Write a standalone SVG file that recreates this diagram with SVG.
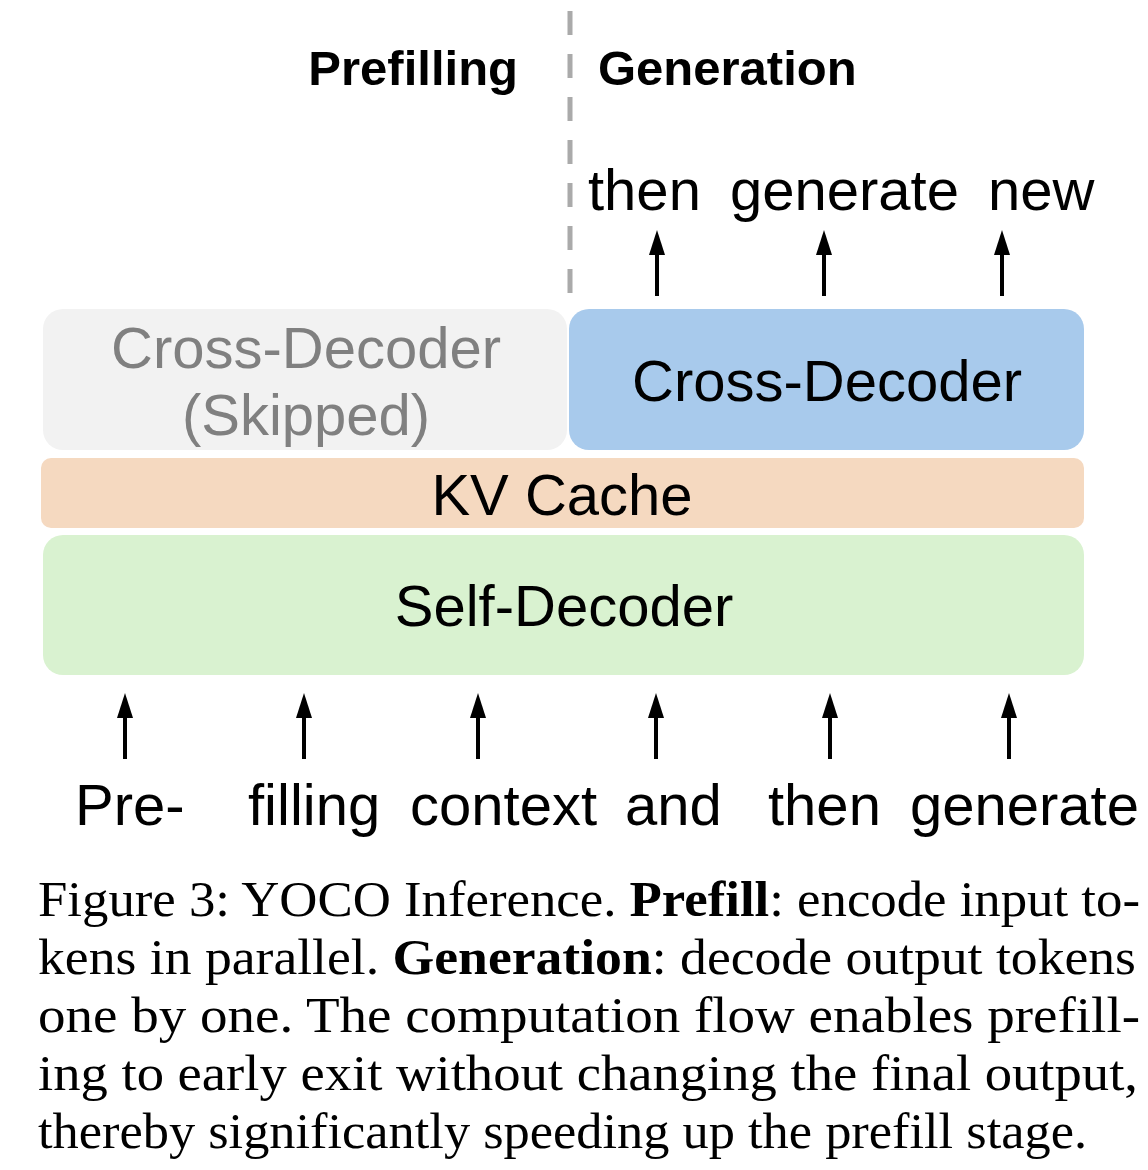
<svg xmlns="http://www.w3.org/2000/svg" width="1148" height="1170" viewBox="0 0 1148 1170">
<defs>
<style>
.lbl{font-family:"Liberation Sans",Arial,sans-serif;font-size:58px;fill:#000;}
.gray{fill:#808080;}
.hdr{font-family:"Liberation Sans",Arial,sans-serif;font-size:49px;font-weight:bold;fill:#000;}
.cap{font-family:"Liberation Serif","Times New Roman",serif;font-size:51px;fill:#000;}
.arrow{stroke:#000;stroke-width:4;fill:none;}
</style>
</defs>
<rect width="1148" height="1170" fill="#fff"/>
<g id="divider">
<line x1="570" y1="11" x2="570" y2="296" stroke="#aaaaaa" stroke-width="5" stroke-dasharray="24 19"/>
</g>
<g id="headers">
<text class="hdr" x="518" y="85" text-anchor="end">Prefilling</text>
<text class="hdr" x="598" y="85">Generation</text>
</g>
<g id="outputs">
<text class="lbl" x="588" y="210">then</text>
<text class="lbl" x="730" y="210">generate</text>
<text class="lbl" x="988" y="210">new</text>
</g>
<g id="cross-skipped">
<rect x="43" y="309" width="524" height="141" rx="20" fill="#f2f2f2"/>
<text class="lbl gray" x="306" y="368" text-anchor="middle">Cross-Decoder</text>
<text class="lbl gray" x="306" y="435" text-anchor="middle">(Skipped)</text>
</g>
<g id="cross-decoder">
<rect x="569" y="309" width="515" height="141" rx="20" fill="#a8caec"/>
<text class="lbl" x="827" y="401" text-anchor="middle">Cross-Decoder</text>
</g>
<g id="kv-cache">
<rect x="41" y="458" width="1043" height="70" rx="10" fill="#f5d9c0"/>
<text class="lbl" x="562" y="515" text-anchor="middle">KV Cache</text>
</g>
<g id="self-decoder">
<rect x="43" y="535" width="1041" height="140" rx="20" fill="#d9f2d0"/>
<text class="lbl" x="564" y="626" text-anchor="middle">Self-Decoder</text>
</g>
<g id="connectors">
<g class="arrow">
<line x1="657" y1="296" x2="657" y2="252"/>
<line x1="824" y1="296" x2="824" y2="252"/>
<line x1="1002" y1="296" x2="1002" y2="252"/>
<line x1="125" y1="759" x2="125" y2="715"/>
<line x1="304" y1="759" x2="304" y2="715"/>
<line x1="478" y1="759" x2="478" y2="715"/>
<line x1="656" y1="759" x2="656" y2="715"/>
<line x1="830" y1="759" x2="830" y2="715"/>
<line x1="1009" y1="759" x2="1009" y2="715"/>
</g>
<g fill="#000">
<polygon points="657,230 649,255 665,255"/>
<polygon points="824,230 816,255 832,255"/>
<polygon points="1002,230 994,255 1010,255"/>
<polygon points="125,693 117,718 133,718"/>
<polygon points="304,693 296,718 312,718"/>
<polygon points="478,693 470,718 486,718"/>
<polygon points="656,693 648,718 664,718"/>
<polygon points="830,693 822,718 838,718"/>
<polygon points="1009,693 1001,718 1017,718"/>
</g>
</g>
<g id="inputs">
<text class="lbl" x="75" y="825">Pre-</text>
<text class="lbl" x="248" y="825">filling</text>
<text class="lbl" x="410" y="825">context</text>
<text class="lbl" x="625" y="825">and</text>
<text class="lbl" x="768" y="825">then</text>
<text class="lbl" x="910" y="825">generate</text>
</g>
<g id="caption">
<text class="cap" x="38" y="916" textLength="1102" lengthAdjust="spacingAndGlyphs">Figure 3:  YOCO Inference. <tspan font-weight="bold">Prefill</tspan>: encode input to-</text>
<text class="cap" x="38" y="974" textLength="1098" lengthAdjust="spacingAndGlyphs">kens in parallel. <tspan font-weight="bold">Generation</tspan>: decode output tokens</text>
<text class="cap" x="38" y="1032" textLength="1102" lengthAdjust="spacingAndGlyphs">one by one.  The computation flow enables prefill-</text>
<text class="cap" x="38" y="1090" textLength="1100" lengthAdjust="spacingAndGlyphs">ing to early exit without changing the final output,</text>
<text class="cap" x="38" y="1148" textLength="1049" lengthAdjust="spacingAndGlyphs">thereby significantly speeding up the prefill stage.</text>
</g>
</svg>
